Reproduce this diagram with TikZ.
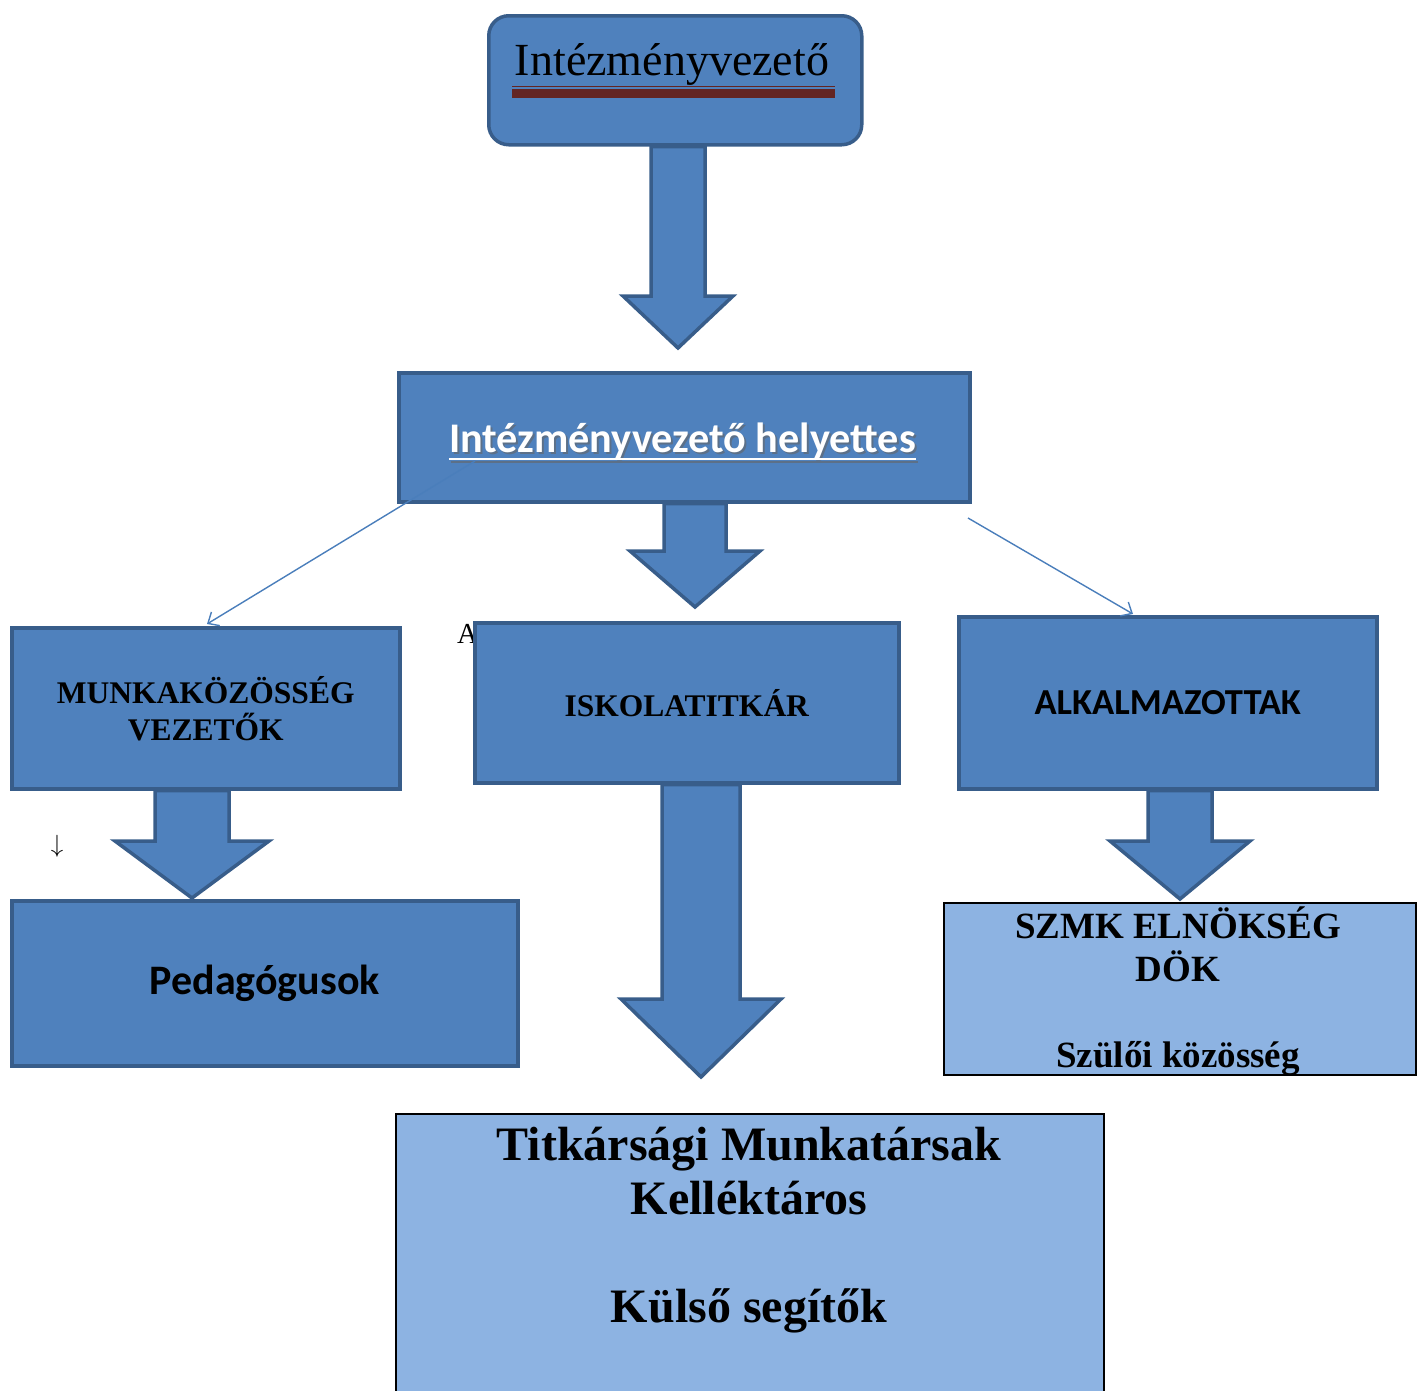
\documentclass[tikz,border=0pt]{standalone}
\usepackage{fontspec}
\setmainfont{Liberation Serif}
\newfontfamily\calib{Carlito}
\usetikzlibrary{arrows.meta,calc}
\definecolor{midblue}{HTML}{4F81BD}
\definecolor{edgeblue}{HTML}{385D8A}
\definecolor{lightblue}{HTML}{8DB3E2}
\definecolor{ulred}{HTML}{632523}
\definecolor{connblue}{HTML}{4A7EBB}
\newcommand\fsz[2]{\fontsize{#1}{#2}\selectfont}
\newcommand\barrow[5]{%
  \draw[blkarrow] let \p1=(#1), \p2=(#2) in
  (\x1-#3pt,\y1) -- (\x1-#3pt,\y2+#5pt) -- (\x1-#4pt,\y2+#5pt) -- (\x2,\y2)
  -- (\x1+#4pt,\y2+#5pt) -- (\x1+#3pt,\y2+#5pt) -- (\x1+#3pt,\y1) -- cycle;}
\begin{document}
\begin{tikzpicture}[x=1pt,y=-1pt,
  darkbox/.style={draw=edgeblue,fill=midblue,line width=3.5pt,anchor=north west,inner sep=0pt,align=center},
  lightbox/.style={draw=black,fill=lightblue,line width=2pt,anchor=north west,inner sep=0pt},
  blkarrow/.style={fill=midblue,draw=edgeblue,line width=3.5pt,line join=miter},
  thinconn/.style={draw=connblue,line width=1.4pt,-{Straight Barb[length=9pt,width=16pt,line width=1.4pt]}},
]
\useasboundingbox (0,0) rectangle (1418,1390);

% top box
\node[darkbox,rounded corners=20pt,minimum width=373pt,minimum height=129pt] (top) at (487,14) {};
\node[anchor=base,inner sep=0pt,font=\fsz{46}{50}] (toptxt) at (672,75) {Intézményvezető};
\draw[ulred,line width=1.3pt] (512,86.7) -- (835,86.7);
\draw[ulred,line width=9pt] (512,93.2) -- (835,93.2);

% arrow top -> helyettes
\coordinate (a1s) at (678,0 |- top.south);
\coordinate (a1e) at (678,348);
\barrow{a1s}{a1e}{27}{55}{52}

% helyettes
\node[darkbox,minimum width=571pt,minimum height=129pt] (hel) at (397,371) {};
\node[anchor=base,inner sep=0pt,text=black!60,opacity=0.6,font=\calib\bfseries\fsz{42.2}{46}] (helshadow) at (684.5,454) {Intézményvezető helyettes};
\node[anchor=base,inner sep=0pt,text=white,font=\calib\bfseries\fsz{42.2}{46}] (heltxt) at (682.5,452) {Intézményvezető helyettes};
\draw[black!60,opacity=0.6,line width=2.5pt] ($(helshadow.base west)+(0,8)$) -- ($(helshadow.base east)+(0,8)$);
\draw[white,line width=2.5pt] ($(heltxt.base west)+(0,7)$) -- ($(heltxt.base east)+(0,7)$);

% arrow helyettes -> iskolatitkar
\coordinate (a2s) at (695,0 |- hel.south);
\coordinate (a2e) at (695,607);
\barrow{a2s}{a2e}{31}{65}{56}

% stray letter
\node[anchor=base west,inner sep=0pt,font=\fsz{29}{30}] (aletter) at (457,643) {A};

% second row
\node[darkbox,minimum width=388pt,minimum height=161pt,font=\bfseries\fsz{31.5}{37}] (munka) at (10,626) {MUNKAKÖZÖSSÉG\\VEZETŐK};
\node[darkbox,minimum width=424pt,minimum height=160pt,font=\bfseries\fsz{31.5}{37}] (iskola) at (473,621) {ISKOLATITKÁR};
\node[darkbox,minimum width=418pt,minimum height=172pt,font=\calib\bfseries\fsz{36.6}{40}] (alk) at (957,615) {ALKALMAZOTTAK};

% thin connectors
\coordinate (c1s) at (475,461);
\coordinate (c1e) at (207,624);
\draw[thinconn] (c1s) -- (c1e);
\coordinate (c2s) at (968,518);
\coordinate (c2e) at (1133,614);
\draw[thinconn] (c2s) -- (c2e);

% arrows to third row
\coordinate (a3s) at (192,0 |- munka.south);
\coordinate (a3e) at (192,898);
\barrow{a3s}{a3e}{37}{77}{57}
\coordinate (a4s) at (701,0 |- iskola.south);
\coordinate (a4e) at (701,1077);
\barrow{a4s}{a4e}{39}{80}{78}
\coordinate (a5s) at (1180,0 |- alk.south);
\coordinate (a5e) at (1180,899);
\barrow{a5s}{a5e}{32}{70}{58}

\node[font=\fsz{30}{30}] (darr) at (57,846) {$\downarrow$};

% third row
\node[darkbox,minimum width=506pt,minimum height=165pt,font=\calib\bfseries\fsz{42}{46}] (ped) at (10,899) {Pedagógusok};
\node[lightbox,minimum width=472pt,minimum height=172pt] (szmk) at (943,902) {};
\node[anchor=base,inner sep=0pt,align=center,font=\bfseries\fsz{37}{43}] (szmktxt) at (1178,1067) {SZMK ELNÖKSÉG\\DÖK\\[43pt]Szülői közösség};

% bottom box
\node[lightbox,minimum width=708pt,minimum height=300pt] (titk) at (395,1113) {};
\node[anchor=base,inner sep=0pt,align=center,font=\bfseries\fsz{48}{54}] (titktxt) at (749,1322) {Titkársági Munkatársak\\Kelléktáros\\[54pt]Külső segítők};
\end{tikzpicture}
\end{document}
